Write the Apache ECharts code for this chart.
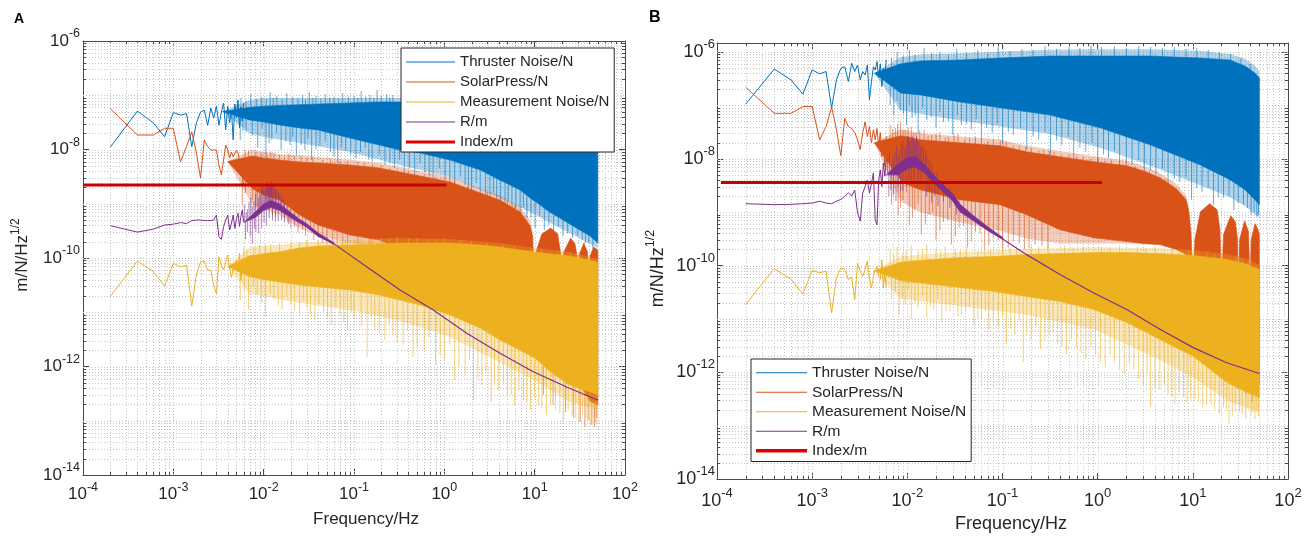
<!DOCTYPE html>
<html>
<head>
<meta charset="utf-8">
<title>Noise amplitude spectra</title>
<script src="https://cdn.jsdelivr.net/npm/echarts@6/dist/echarts.min.js"></script>
<style>
html,body{margin:0;padding:0;background:#fff;}
#chart{width:1313px;height:538px;}
</style>
</head>
<body>
<div id="chart"></div>
<script>
// ---------------- data (Hz, m/N/Hz^1/2) ----------------
// low-frequency bins, 2e-4 Hz resolution
const F_LOW = [0.0002,0.0004,0.0006,0.0008,0.0010,0.0012,0.0014,0.0016,0.0018,0.0020,
  0.0022,0.0024,0.0026,0.0028,0.0030,0.0032,0.0034,0.0036,0.0038,0.0040,
  0.0042,0.0044,0.0046,0.0048,0.0050,0.0052,0.0054,0.0056,0.0058,0.0060];

// ---- panel A ----
const A_THR_LOW = [1.1e-8,5.1e-8,3.1e-8,1.72e-8,4.8e-8,4.3e-8,4.6e-8,1.13e-8,3.1e-8,4.9e-8,
  5.3e-8,2.8e-8,5.8e-8,3.8e-8,6.3e-8,2.8e-8,4.9e-8,7.2e-8,2.3e-8,6.3e-8,
  3.1e-8,5.3e-8,1.5e-8,6.9e-8,3.8e-8,8.2e-8,2.5e-8,6.1e-8,3.35e-8,7.2e-8];
const A_SOL_LOW = [5.7e-8,1.85e-8,1.85e-8,2.46e-8,2.46e-8,5.96e-9,1.13e-8,2.13e-8,8.6e-9,2.98e-9,
  1.5e-8,1.13e-8,9.8e-9,9.8e-9,9.8e-9,5.2e-9,3.4e-9,6.4e-9,1.21e-8,9.8e-9,
  7.0e-9,9.0e-9,7.3e-9,7.6e-9,9.8e-9,8.6e-9,6.4e-9,5.2e-9,3.4e-9,2.2e-9];
const A_MEA_LOW = [1.94e-11,8.8e-11,5.6e-11,3.05e-11,8e-11,6.9e-11,7.4e-11,1.3e-11,4.9e-11,8.4e-11,
  8.8e-11,6e-11,6e-11,3.1e-11,2.2e-11,1.05e-10,7.4e-11,6e-11,8.4e-11,1.14e-10,
  6.5e-11,4.4e-11,6.5e-11,7.4e-11,9.2e-11,5.6e-11,1.23e-10,3.9e-11,8.4e-11,6e-11];
const A_R_LOW = [3.94e-10,3.0e-10,3.4e-10,4.06e-10,4.2e-10,4.5e-10,4.3e-10,4.9e-10,5e-10,5e-10,
  4.9e-10,4.9e-10,4.9e-10,5e-10,6.2e-10,2.47e-10,2.2e-10,3.8e-10,5e-10,6.2e-10,
  3.28e-10,4.4e-10,6.2e-10,3.5e-10,5.3e-10,6.7e-10,3.8e-10,5.8e-10,7.7e-10,4.7e-10];

// dense part: [f, upper, lower] of the solid band; *_HALO is the lighter fringe around it
const A_THR_CORE = [[0.0035,5.0e-8,5.0e-8],[0.007,6.0e-8,3.5e-8],[0.01,6.3e-8,3.2e-8],[0.015,6.5e-8,2.83e-8],
  [0.025,6.7e-8,2.5e-8],[0.04,6.9e-8,2.29e-8],[0.09,7.2e-8,1.63e-8],[0.19,7.5e-8,1.21e-8],[0.32,7.5e-8,9.8e-9],
  [0.54,7.5e-8,8.6e-9],[1.16,7.5e-8,6.4e-9],[2.5,7.3e-8,4.2e-9],[4.1,7.0e-8,2.74e-9],[6.9,6.8e-8,1.79e-9],
  [8.9,6.6e-8,1.28e-9],[11.5,6.4e-8,9.5e-10],[14.6,6.2e-8,7.05e-10],[19,6.0e-8,5.46e-10],[24.5,5.8e-8,4.24e-10],
  [31.5,5.6e-8,3.28e-10],[41,5.4e-8,2.55e-10],[50,5.2e-8,1.89e-10]];
const A_THR_HALO = [[0.0035,5.0e-8,5.0e-8],[0.007,8.2e-8,2.0e-8],[0.01,8.9e-8,1.7e-8],[0.025,8.9e-8,1.32e-8],
  [0.09,8.9e-8,9.0e-9],[0.32,8.9e-8,5.2e-9],[1.16,8.9e-8,3.1e-9],[4.1,8.5e-8,1.28e-9],[8.9,8.2e-8,7.05e-10],
  [19,7.8e-8,3.57e-10],[50,6.5e-8,1.53e-10]];
// spike tips [f, value] above / below the band
const A_THR_UP = [[0.0056,8.9e-8],[0.0072,1.05e-7],[0.0095,9.3e-8],[0.0118,1.15e-7],[0.014,9.7e-8],[0.018,1.1e-7],
  [0.021,9.3e-8],[0.027,1.01e-7],[0.032,1.15e-7],[0.038,9.7e-8],[0.048,1.05e-7],[0.06,9.3e-8],[0.075,1.1e-7],
  [0.1,9.7e-8],[0.12,1.2e-7],[0.15,1.01e-7],[0.18,1.25e-7],[0.23,1.05e-7],[0.27,1.01e-7],
  [0.0064,8.0e-8],[0.0083,8.6e-8],[0.0107,8.2e-8],[0.0128,9.0e-8],[0.016,8.4e-8],[0.024,8.8e-8],[0.029,8.3e-8],
  [0.035,9.0e-8],[0.043,8.5e-8],[0.054,9.2e-8],[0.067,8.8e-8],[0.087,9.5e-8],[0.11,8.9e-8],[0.135,9.6e-8],[0.165,9.0e-8],
  [0.2,9.8e-8],[0.25,9.2e-8]];
const A_THR_DN = [[0.0055,1.5e-8],[0.0064,2.1e-8],[0.0086,1.07e-8],[0.0106,4.75e-9],[0.0123,1.5e-8],[0.0156,9.8e-9],
  [0.0196,1.21e-8],[0.023,7.9e-9],[0.0286,9.8e-9],[0.034,6.4e-9],[0.042,1.16e-8],[0.055,9.0e-9],[0.066,5.64e-9],
  [0.081,9.8e-9],[0.105,6.97e-9],[0.133,1.07e-8],[0.159,5.9e-9],[0.22,5.2e-9],[0.28,4.56e-9],[0.36,3.4e-9],
  [0.47,2.52e-9],[0.61,3.85e-9],[0.75,2.04e-9],[1.02,2.74e-9],[1.3,1.79e-9],[1.7,2.22e-9],[2.0,1.45e-9],
  [2.5,1.17e-9],[3.2,9.5e-10],[3.8,7.7e-10],[4.7,8.35e-10],[5.6,6.2e-10],[6.9,4.6e-10],[8.2,5.46e-10],
  [10.1,3.57e-10],[12.8,3.28e-10],[16.2,3.0e-10],[20.6,2.55e-10],[26.2,2.33e-10],[33.6,2.15e-10],[39.6,1.97e-10],
  [0.0059,2.2e-8],[0.0075,1.8e-8],[0.0096,2.4e-8],[0.0115,1.3e-8],[0.0139,2.0e-8],[0.0176,1.4e-8],[0.021,1.7e-8],
  [0.026,1.2e-8],[0.031,1.6e-8],[0.038,1.0e-8],[0.048,1.4e-8],[0.06,7.5e-9],[0.073,1.1e-8],[0.092,8e-9],[0.118,9e-9],
  [0.146,6.5e-9],[0.19,8e-9],[0.25,5.5e-9],[0.32,6.5e-9],[0.41,4.5e-9],[0.54,5.5e-9],[0.68,3.2e-9],[0.88,4.5e-9],
  [1.15,2.4e-9],[1.5,3.2e-9],[1.85,1.6e-9],[2.25,2.4e-9],[2.85,1.4e-9],[3.5,1.6e-9],[4.2,1.0e-9],[5.1,1.1e-9],
  [6.2,8e-10],[7.5,8.5e-10],[9.1,5.5e-10],[11.4,6e-10],[14.4,4e-10],[18.3,3.8e-10],[23.2,2.8e-10],[29.6,2.6e-10],
  [36.5,1.9e-10],[44,1.5e-10]];

const A_SOL_CORE = [[0.004,6.0e-9,6.0e-9],[0.0075,7.6e-9,1.9e-9],[0.01,6.97e-9,1.45e-9],[0.015,6.4e-9,1.17e-9],
  [0.025,5.9e-9,6.2e-10],[0.04,5.64e-9,4.06e-10],[0.09,5.2e-9,2.65e-10],[0.19,4.56e-9,2.15e-10],[0.32,3.85e-9,1.53e-10],
  [0.54,3.25e-9,1.29e-10],[1.16,2.52e-9,1.14e-10],[2.5,1.58e-9,8.4e-11],[4.1,1.17e-9,6e-11],[6.9,7.05e-10,3.18e-11],
  [8.0,5.0e-10,2.5e-11],[8.9,3.9e-10,2.0e-11],[9.5,2.55e-10,1.6e-11],[10,2.57e-11,1.1e-11],[10.5,1.4e-10,9e-12],
  [12,2.77e-10,6e-12],[15,3.57e-10,3.1e-12],[18,2.77e-10,2e-12],[19.3,1.29e-10,1.5e-12],[20,2.57e-11,1.32e-12],
  [21,1.29e-10,1.2e-12],[25,2.33e-10,8e-13],[28,1.81e-10,6e-13],[29.5,1.09e-10,5e-13],[30,2.57e-11,4.56e-13],
  [31,1.14e-10,4.3e-13],[35,1.89e-10,3.5e-13],[38.5,1.29e-10,2.8e-13],[40,2.57e-11,2.4e-13],[41,1.09e-10,2.3e-13],
  [45,1.6e-10,2.1e-13],[50,1.4e-10,1.95e-13]];
const A_SOL_HALO = [[0.004,6.0e-9,6.0e-9],[0.0075,9.8e-9,9.5e-10],[0.015,8.2e-9,6.2e-10],[0.025,7.8e-9,3.57e-10],
  [0.04,7.3e-9,2.55e-10],[0.09,6.5e-9,1.89e-10],[0.19,5.64e-9,1.6e-10],[0.54,4.0e-9,1.2e-10],[1.16,3.1e-9,1.1e-10],
  [2.5,1.92e-9,8e-11],[4.1,1.45e-9,6e-11],[6.9,8.7e-10,3e-11],[8.9,5e-10,2e-11],[9.5,2.6e-10,1.6e-11]];
const A_SOL_UP = [[0.0062,9.8e-9],[0.0082,9.0e-9],[0.011,7.9e-9],[0.013,8.6e-9],[0.017,7.3e-9],[0.022,7.6e-9],
  [0.03,6.97e-9],[0.045,6.4e-9],[0.07,6.1e-9],[0.11,5.9e-9],[0.16,5.4e-9],[0.25,4.56e-9],
  [0.0068,9.5e-9],[0.0095,8.5e-9],[0.012,9.2e-9],[0.015,8.0e-9],[0.019,8.3e-9],[0.026,7.5e-9],[0.035,7.2e-9],
  [0.055,6.6e-9],[0.085,6.2e-9],[0.13,5.7e-9],[0.2,5.0e-9],[0.3,4.3e-9],[0.4,4.0e-9],[0.6,3.5e-9],[0.8,3.1e-9],
  [1.3,2.6e-9],[1.8,2.1e-9],[3.0,1.6e-9],[5.0,1.1e-9],[6.0,9.5e-10]];
const A_SOL_DN = [[0.0058,9.5e-10],[0.0075,1.17e-9],[0.009,6.2e-10],[0.0115,7.7e-10],[0.0135,4.6e-10],[0.017,5.46e-10],
  [0.02,3.57e-10],[0.024,3.0e-10],[0.029,2.55e-10],[0.036,2.15e-10],[0.045,1.89e-10],[0.058,1.74e-10],[0.075,1.6e-10],
  [0.0063,1.6e-9],[0.0082,8e-10],[0.0105,1.1e-9],[0.0125,6e-10],[0.0155,8e-10],[0.0185,4.5e-10],[0.022,5e-10],
  [0.027,3.3e-10],[0.033,3.6e-10],[0.04,2.5e-10],[0.05,2.3e-10],[0.065,1.9e-10],[0.085,1.7e-10],[0.11,1.6e-10],
  [0.15,1.5e-10],
  [12.5,2.99e-13],[16,1.95e-13],[22,1.45e-13],[27,1.12e-13],[32,9.5e-14],[36,7.7e-14],[39,1.03e-13],[43,8.4e-14],
  [46,7.7e-14],[48.5,1.12e-13]];

const A_MEA_CORE = [[0.004,7.0e-11,7.0e-11],[0.007,1.1e-10,4.5e-11],[0.01,1.2e-10,4.0e-11],[0.015,1.3e-10,3.6e-11],
  [0.025,1.53e-10,3.18e-11],[0.04,1.66e-10,2.92e-11],[0.09,1.74e-10,2.57e-11],[0.19,1.81e-10,2.08e-11],
  [0.32,1.89e-10,1.68e-11],[0.54,1.89e-10,1.36e-11],[1.16,1.89e-10,8.9e-12],[2.5,1.74e-10,5.1e-12],[4.1,1.6e-10,3.1e-12],
  [6.9,1.4e-10,2.0e-12],[10,1.29e-10,1.44e-12],[15,1.19e-10,7.9e-13],[24.5,1.09e-10,4.56e-13],[35,9.6e-11,3.7e-13],
  [45,8.8e-11,3.25e-13],[50,8.1e-11,2.99e-13]];
const A_MEA_HALO = [[0.004,7.0e-11,7.0e-11],[0.007,1.6e-10,2.2e-11],[0.025,1.89e-10,1.5e-11],[0.09,2.15e-10,1.1e-11],
  [0.32,2.33e-10,7e-12],[1.16,2.24e-10,3.5e-12],[4.1,1.89e-10,1.2e-12],[10,1.53e-10,5.5e-13],[24.5,1.29e-10,2.2e-13],
  [50,9.6e-11,1.6e-13]];
const A_MEA_UP = [[0.006,1.6e-10],[0.009,1.74e-10],[0.012,1.81e-10],[0.02,1.97e-10],[0.03,2.15e-10],[0.05,2.33e-10],
  [0.08,2.15e-10],[0.12,2.55e-10],[0.2,2.33e-10],[0.3,2.44e-10],[0.5,2.33e-10],[0.8,2.24e-10],[1.5,2.15e-10],
  [3,1.89e-10],[6,1.66e-10],[12,1.47e-10],[25,1.29e-10],[40,1.09e-10],
  [0.0065,1.45e-10],[0.0078,1.6e-10],[0.0105,1.75e-10],[0.015,1.85e-10],[0.025,2.0e-10],[0.04,2.15e-10],
  [0.065,2.1e-10],[0.1,2.3e-10],[0.16,2.2e-10],[0.25,2.35e-10],[0.4,2.3e-10],[0.65,2.25e-10],[1.0,2.3e-10],
  [2.0,2.05e-10],[4.5,1.8e-10],[9,1.55e-10],[18,1.35e-10],[32,1.15e-10],[47,9.5e-11]];
const A_MEA_DN = [[0.0055,1.68e-11],[0.0068,1.1e-11],[0.0085,2.08e-11],[0.0105,8.2e-12],[0.013,1.68e-11],[0.016,1.1e-11],
  [0.02,1.36e-11],[0.025,8.9e-12],[0.03,1.2e-11],[0.037,7.2e-12],[0.046,1.01e-11],[0.056,5.8e-12],[0.07,8.9e-12],
  [0.085,4.7e-12],[0.1,7.8e-12],[0.14,1.5e-12],[0.17,4.7e-12],[0.22,3.1e-12],[0.27,3.8e-12],[0.35,2.5e-12],
  [0.45,1.5e-12],[0.6,2.0e-12],[0.8,1.07e-12],[1.0,1.32e-12],[1.3,5.6e-13],[1.7,7.0e-13],[2.1,2.4e-13],[2.6,4.56e-13],
  [3.3,2.2e-13],[4.0,3.7e-13],[5.0,2.99e-13],[6.0,1.95e-13],[7.5,2.4e-13],[9.0,1.58e-13],[11,1.95e-13],[13.5,1.28e-13],
  [17,1.58e-13],[21,1.03e-13],[26,1.22e-13],[31,9.5e-14],[37,1.12e-13],[42,8.4e-14],[47,9.1e-14],
  [0.0061,2.5e-11],[0.0077,3e-11],[0.0095,1.5e-11],[0.0118,2.2e-11],[0.0145,1.3e-11],[0.018,2e-11],[0.022,1.1e-11],
  [0.0275,1.6e-11],[0.033,9e-12],[0.041,1.4e-11],[0.051,8e-12],[0.063,1.2e-11],[0.077,6.5e-12],[0.093,1.0e-11],
  [0.12,5.5e-12],[0.155,8e-12],[0.19,4e-12],[0.245,6e-12],[0.3,2.8e-12],[0.39,4.5e-12],[0.5,2.2e-12],[0.68,3.5e-12],
  [0.9,1.6e-12],[1.15,2.5e-12],[1.45,1.0e-12],[1.9,1.3e-12],[2.35,6e-13],[2.9,8e-13],[3.6,4.5e-13],[4.5,5e-13],
  [5.5,3e-13],[6.7,3.5e-13],[8.2,2.2e-13],[10,2.6e-13],[12,1.7e-13],[15,2e-13],[19,1.4e-13],[23.5,1.6e-13],
  [28.5,1.1e-13],[34,1.3e-13],[40,1.0e-13],[44.5,1.15e-13],[49,8.5e-14]];

const A_R_CORE = [[0.006,4.5e-10,4.5e-10],[0.008,7e-10,5.5e-10],[0.01,1.0e-9,7.5e-10],[0.012,1.15e-9,8.5e-10],
  [0.015,1.0e-9,7.5e-10],[0.02,6.8e-10,5.5e-10],[0.025,5.2e-10,4.4e-10],[0.03,4.3e-10,3.7e-10],[0.04,2.9e-10,2.5e-10],
  [0.06,1.92e-10,1.78e-10]];
const A_R_UP = [[0.0061,9.5e-10],[0.0066,8e-10],[0.0072,1.3e-9],[0.0078,1.1e-9],[0.0085,1.8e-9],[0.0092,1.5e-9],
  [0.0098,2.4e-9],[0.0104,2.0e-9],[0.011,2.5e-9],[0.0116,2.2e-9],[0.0122,2.6e-9],[0.013,2.0e-9],[0.014,1.9e-9],
  [0.0152,1.5e-9],[0.0165,1.2e-9],[0.018,9e-10],
  [0.0064,7e-10],[0.0069,1.1e-9],[0.0075,9e-10],[0.0081,1.5e-9],[0.0088,1.3e-9],[0.0095,2.0e-9],[0.0101,1.7e-9],
  [0.0107,2.3e-9],[0.0113,2.0e-9],[0.0119,2.4e-9],[0.0126,2.2e-9],[0.0135,1.8e-9],[0.0146,1.6e-9],[0.0158,1.3e-9],
  [0.017,1.05e-9],[0.0195,8e-10],[0.022,6.8e-10]];
const A_R_DN = [[0.0063,2.2e-10],[0.0075,1.86e-10],[0.0082,3e-10],[0.0095,3.5e-10],[0.0107,4e-10],[0.0125,5e-10],
  [0.0145,4.8e-10],[0.017,4.5e-10],
  [0.0066,3e-10],[0.0071,2.5e-10],[0.0079,3.5e-10],[0.0088,2.8e-10],[0.0101,4.5e-10],[0.0115,5.5e-10],
  [0.0135,5.5e-10],[0.0158,5e-10],[0.019,4.2e-10],[0.022,3.8e-10]];
const A_R_F = [0.025,0.059,0.138,0.323,0.755,1.77,4.13,9.66,22.6,44.6,50];
const A_R_V = [4.7e-10,1.86e-10,6.9e-11,2.57e-11,1.1e-11,4.1e-12,1.75e-12,8e-13,4.2e-13,2.6e-13,2.4e-13];
const A_IDX_F = [0.0001,1.06];
const A_IDX_V = [2.22e-9,2.22e-9];

// ---- panel B ----
const B_THR_LOW = [1.05e-7,4.8e-7,3.0e-7,1.62e-7,4.6e-7,3.9e-7,4.3e-7,8.9e-8,3.0e-7,4.95e-7,
  5.3e-7,2.8e-7,6.15e-7,4.3e-7,5.7e-7,3.0e-7,4.3e-7,3.7e-7,5.7e-7,1.27e-7,
  2.8e-7,5.3e-7,4.6e-7,6.6e-7,3.3e-7,6.0e-7,2.25e-7,5.0e-7,3.6e-7,7.1e-7];
const B_SOL_LOW = [2.19e-7,7.1e-8,7.1e-8,9.5e-8,9.5e-8,2.26e-8,4e-8,9.3e-8,3.5e-8,1.14e-8,
  5.75e-8,4e-8,3.7e-8,3.1e-8,2.26e-8,1.48e-8,3.1e-8,4.9e-8,2.6e-8,4e-8,
  2e-8,3.5e-8,2.26e-8,3.7e-8,1.7e-8,3.1e-8,1.1e-8,2.26e-8,7.2e-9,2.6e-8];
const B_MEA_LOW = [1.87e-11,8.7e-11,5.5e-11,2.9e-11,8.1e-11,7.3e-11,7.9e-11,1.3e-11,5.9e-11,9e-11,
  8.5e-11,5.5e-11,6e-11,2.3e-11,1.1e-10,7.8e-11,6.3e-11,8.4e-11,1.2e-10,5.5e-11,
  3.8e-11,6.3e-11,8.4e-11,9.7e-11,6.3e-11,5.5e-11,1.28e-10,3.8e-11,7.3e-11,3.8e-11];
const B_R_LOW = [1.44e-9,1.38e-9,1.4e-9,1.44e-9,1.48e-9,1.6e-9,1.48e-9,1.44e-9,1.6e-9,1.73e-9,
  1.98e-9,2.3e-9,2e-9,2.6e-9,9.6e-10,6.8e-10,2.3e-9,3.0e-9,4.0e-9,2.3e-9,
  3.5e-9,5.4e-9,7.2e-10,5.8e-10,4e-9,6.2e-9,3e-9,8.3e-9,4.7e-9,9.6e-9];

const B_THR_CORE = [[0.0045,4.0e-7,4.0e-7],[0.0085,6.0e-7,1.7e-7],[0.0136,6.8e-7,1.57e-7],[0.0357,7.1e-7,1.16e-7],
  [0.0943,7.7e-7,9.0e-8],[0.315,8.4e-7,6.6e-8],[1.06,8.4e-7,3.8e-8],[3.55,8.4e-7,1.83e-8],[11.9,7.7e-7,7.7e-9],
  [24.5,7.1e-7,4.05e-9],[35.3,5.47e-7,2.64e-9],[44.9,4.05e-7,1.71e-9],[50,3.27e-7,1.38e-9]];
const B_THR_HALO = [[0.0045,4.0e-7,4.0e-7],[0.0085,8e-7,8e-8],[0.0136,9e-7,7e-8],[0.0357,9.5e-7,5.2e-8],
  [0.0943,1.02e-6,4e-8],[0.315,1.1e-6,2.9e-8],[1.06,1.12e-6,1.6e-8],[3.55,1.12e-6,7.5e-9],[11.9,1.05e-6,3.2e-9],
  [24.5,9.2e-7,1.9e-9],[35.3,7.5e-7,1.3e-9],[44.9,5.6e-7,9e-10],[50,4.3e-7,8e-10]];
const B_THR_UP = [[0.0068,7.7e-7],[0.0078,1.0e-6],[0.009,8.4e-7],[0.0105,1.09e-6],[0.012,8.8e-7],[0.015,1.19e-6],
  [0.018,9.6e-7],[0.022,1.0e-6],[0.027,8.8e-7],[0.033,1.14e-6],[0.042,9.6e-7],[0.055,1.09e-6],[0.07,9.2e-7],
  [0.09,1.24e-6],[0.12,1.04e-6],[0.16,1.14e-6],[0.21,1.09e-6],[0.28,1.29e-6],[0.37,1.14e-6],[0.5,1.24e-6],
  [0.65,1.19e-6],[0.85,1.35e-6],[1.1,1.24e-6],[1.5,1.29e-6],[2.0,1.19e-6],[2.7,1.29e-6],[3.6,1.24e-6],[4.8,1.19e-6],
  [6.4,1.24e-6],[8.5,1.14e-6],[11,1.19e-6],[14.5,1.09e-6],[19,1.0e-6],[25,9.2e-7],[32,7.7e-7],[40,5.97e-7]];
const B_THR_DN = [[0.0072,6.6e-8],[0.0084,8.2e-8],[0.0098,4.3e-8],[0.0112,5.8e-8],[0.013,3.06e-8],[0.016,5.36e-8],
  [0.02,3.8e-8],[0.024,4.9e-8],[0.03,2.81e-8],[0.037,4.3e-8],[0.047,3.48e-8],[0.06,2.26e-8],[0.078,3.06e-8],
  [0.1,1.83e-8],[0.13,2.81e-8],[0.18,1.47e-8],[0.24,2.26e-8],[0.32,1.19e-8],[0.42,1.83e-8],[0.56,9.6e-9],
  [0.75,1.35e-8],[1.0,7.7e-9],[1.3,1.04e-8],[1.7,5.0e-9],[2.3,7.7e-9],[3.1,3.0e-9],[4.1,5.0e-9],[5.5,2.64e-9],
  [7.3,3.7e-9],[9.7,1.71e-9],[12.5,2.42e-9],[16.5,1.38e-9],[21,1.87e-9],[27,1.11e-9],[34,1.38e-9],[41,8.97e-10],
  [47,8.2e-10],
  [0.0066,1.0e-7],[0.0078,1.2e-7],[0.0091,7e-8],[0.0105,1.0e-7],[0.0121,6.5e-8],[0.0145,9e-8],[0.0178,6e-8],
  [0.022,7.5e-8],[0.027,5e-8],[0.0335,6.5e-8],[0.042,4.5e-8],[0.053,5.5e-8],[0.068,3.8e-8],[0.088,4.5e-8],
  [0.115,3.2e-8],[0.155,3.8e-8],[0.21,2.6e-8],[0.28,3.2e-8],[0.37,2.2e-8],[0.49,2.6e-8],[0.65,1.6e-8],[0.87,2.0e-8],
  [1.15,1.2e-8],[1.5,1.4e-8],[2.0,8.5e-9],[2.7,9.5e-9],[3.6,6e-9],[4.8,6.5e-9],[6.4,4.2e-9],[8.5,4.5e-9],[11,2.8e-9],
  [14.5,2.9e-9],[18.5,1.9e-9],[24,2.0e-9],[30,1.5e-9],[37.5,1.2e-9],[44,1.0e-9],[49,9e-10]];

const B_SOL_CORE = [[0.0045,2.0e-8,2.0e-8],[0.0085,2.7e-8,4.0e-9],[0.01,2.58e-8,3.27e-9],[0.0136,2.26e-8,2.64e-9],
  [0.0357,1.99e-8,1.71e-9],[0.0943,1.75e-8,1.38e-9],[0.179,1.35e-8,8.97e-10],[0.40,1.09e-8,4.7e-10],[0.90,8.8e-9,3.33e-10],
  [2.02,7.4e-9,2.81e-10],[2.99,5.97e-9,2.6e-10],[4.52,4.4e-9,2.47e-10],[6.7,2.75e-9,2.0e-10],[8.5,1.71e-9,1.61e-10],
  [9.1,1.02e-9,1.3e-10],[9.6,3.8e-10,1.0e-10],[10,3.6e-11,3.0e-11],[10.5,3.06e-10,7e-11],[12,1.02e-9,5e-11],
  [15,1.44e-9,2.31e-11],[18,1.11e-9,1.4e-11],[19.3,4.7e-10,1.1e-11],[20,3.56e-11,9.8e-12],[21,3.8e-10,8.5e-12],
  [25,8.6e-10,5e-12],[28,6.6e-10,3.5e-12],[29.5,3.06e-10,2.9e-12],[30,3.56e-11,2.69e-12],[31,3.06e-10,2.5e-12],
  [35,6.9e-10,1.6e-12],[38.5,4.3e-10,1.1e-12],[40,3.56e-11,9.2e-13],[41,3.06e-10,8.8e-13],[45,6.1e-10,7.5e-13],
  [48.5,4.7e-10,6.5e-13],[50,3.8e-10,5.97e-13]];
const B_SOL_HALO = [[0.0045,2.0e-8,2.0e-8],[0.0085,3.6e-8,1.6e-9],[0.0136,3.0e-8,1.0e-9],[0.0357,2.6e-8,6.5e-10],
  [0.0943,2.3e-8,4.5e-10],[0.179,1.75e-8,3.2e-10],[0.4,1.4e-8,2.6e-10],[0.9,1.12e-8,2.6e-10],[2.02,9.2e-9,2.6e-10],
  [2.99,7.4e-9,2.5e-10],[4.52,5.4e-9,2.4e-10],[6.7,3.4e-9,2e-10],[8.5,2.0e-9,1.6e-10],[9.1,1.1e-9,1.3e-10]];
const B_SOL_UP = [[0.0066,4.3e-8],[0.0075,3.8e-8],[0.0085,4.9e-8],[0.0095,3.48e-8],[0.011,3.96e-8],[0.0125,3.06e-8],
  [0.015,3.48e-8],[0.018,2.81e-8],[0.022,3.2e-8],[0.027,2.58e-8],[0.034,2.93e-8],[0.045,2.47e-8],[0.06,2.26e-8],
  [0.08,2.37e-8],[0.11,2.08e-8],[0.15,1.75e-8],[0.2,1.61e-8],[0.27,1.47e-8],[0.35,1.35e-8],[0.5,1.19e-8],
  [0.7,1.09e-8],[1.0,1.04e-8],[1.4,9.6e-9],[2.0,8.8e-9],
  [0.007,3.6e-8],[0.0079,4.5e-8],[0.009,3.3e-8],[0.0102,3.8e-8],[0.0117,3.0e-8],[0.0135,3.4e-8],[0.0165,2.7e-8],
  [0.02,3.0e-8],[0.025,2.5e-8],[0.031,2.8e-8],[0.04,2.3e-8],[0.052,2.6e-8],[0.07,2.1e-8],[0.095,2.2e-8],[0.13,1.8e-8],
  [0.175,1.65e-8],[0.24,1.45e-8],[0.31,1.4e-8],[0.42,1.2e-8],[0.6,1.1e-8],[0.85,1.0e-8],[1.2,9.2e-9],[1.7,8.6e-9],
  [2.5,7.2e-9],[3.5,5.8e-9],[5.2,4.2e-9]];
const B_SOL_DN = [[0.0068,1.38e-9],[0.008,8.97e-10],[0.009,1.71e-9],[0.0105,5.8e-10],[0.012,1.11e-9],[0.014,3.8e-10],
  [0.017,8.97e-10],[0.02,3.06e-10],[0.024,6.6e-10],[0.029,2.47e-10],[0.035,5.1e-10],[0.043,2.17e-10],[0.052,4.3e-10],
  [0.065,1.99e-10],[0.08,3.33e-10],[0.1,1.99e-10],[0.13,2.81e-10],[0.17,1.99e-10],[0.22,2.47e-10],
  [0.0071,2e-9],[0.0085,1.2e-9],[0.0098,2.3e-9],[0.0113,8e-10],[0.013,1.4e-9],[0.0155,6e-10],[0.0185,1e-9],
  [0.022,4.5e-10],[0.0265,7e-10],[0.032,3.5e-10],[0.039,5.5e-10],[0.047,2.8e-10],[0.058,4e-10],[0.072,2.4e-10],
  [0.09,3e-10],[0.115,2.2e-10],[0.15,2.6e-10],[0.19,2.1e-10],[0.26,2.3e-10],[0.3,2.1e-10],
  [30,4.8e-13],[36,3.88e-13],[42,2.75e-13],[46,3.41e-13],[49,3.13e-13]];

const B_MEA_CORE = [[0.0045,8.0e-11,8.0e-11],[0.0085,1.15e-10,5.2e-11],[0.01,1.2e-10,5.0e-11],[0.0357,1.41e-10,3.88e-11],
  [0.08,1.47e-10,3.27e-11],[0.179,1.61e-10,2.64e-11],[0.4,1.68e-10,2.12e-11],[0.9,1.75e-10,1.51e-11],
  [2.02,1.75e-10,8.6e-12],[4.52,1.68e-10,4.14e-12],[10.1,1.54e-10,1.99e-12],[22.7,1.3e-10,6.5e-13],
  [35,1.09e-10,4.4e-13],[50,8.4e-11,3.41e-13]];
const B_MEA_HALO = [[0.0045,8.0e-11,8.0e-11],[0.0085,1.5e-10,2.4e-11],[0.0357,1.8e-10,1.75e-11],[0.179,2.05e-10,1.2e-11],
  [0.9,2.2e-10,6.5e-12],[4.52,2.1e-10,1.7e-12],[10.1,1.95e-10,8e-13],[22.7,1.65e-10,3e-13],[35,1.38e-10,2.2e-13],
  [50,1.05e-10,1.8e-13]];
const B_MEA_UP = [[0.0066,1.99e-10],[0.0078,2.26e-10],[0.009,1.83e-10],[0.011,2.37e-10],[0.013,1.99e-10],[0.016,2.47e-10],
  [0.02,2.08e-10],[0.025,2.26e-10],[0.032,1.99e-10],[0.042,2.17e-10],[0.055,1.83e-10],[0.075,1.99e-10],[0.1,2.08e-10],
  [0.14,2.26e-10],[0.2,2.37e-10],[0.3,2.26e-10],[0.45,2.37e-10],[0.7,2.17e-10],[1.1,2.26e-10],[1.7,2.37e-10],
  [2.6,2.26e-10],[4,2.17e-10],[6,2.17e-10],[9,1.99e-10],[14,1.83e-10],[20,1.68e-10],[28,1.41e-10],[38,1.19e-10],
  [46,1.0e-10],
  [0.0072,1.7e-10],[0.0097,1.9e-10],[0.0145,2.0e-10],[0.0225,1.95e-10],[0.036,2.05e-10],[0.065,2.0e-10],
  [0.12,2.15e-10],[0.24,2.2e-10],[0.55,2.2e-10],[1.35,2.2e-10],[3.2,2.1e-10],[7.5,1.95e-10],[17,1.7e-10],
  [33,1.3e-10]];
const B_MEA_DN = [[0.0068,2.31e-11],[0.0082,1.21e-11],[0.0095,1.87e-11],[0.011,9.8e-12],[0.013,1.64e-11],[0.016,1.07e-11],
  [0.019,1.51e-11],[0.023,8.6e-12],[0.028,1.38e-11],[0.034,1.11e-11],[0.041,1.38e-11],[0.05,7.9e-12],[0.06,9.8e-12],
  [0.072,6.4e-12],[0.09,7.2e-12],[0.11,3.33e-12],[0.135,5.1e-12],[0.165,1.54e-12],[0.2,4.14e-12],[0.25,2.69e-12],
  [0.31,5.1e-12],[0.38,3.33e-12],[0.47,2.17e-12],[0.6,2.93e-12],[0.75,1.75e-12],[0.95,2.17e-12],[1.2,1.24e-12],
  [1.5,1.61e-12],[1.9,9.2e-13],[2.4,1.14e-12],[3.0,5.97e-13],[3.6,2.22e-13],[4.5,4.8e-13],[5.5,3.88e-13],
  [6.5,2.52e-13],[8,3.41e-13],[9.5,3.13e-13],[11.5,2.87e-13],[14,2.52e-13],[17,2.03e-13],[21,2.22e-13],[24,1.07e-13],
  [28,1.87e-13],[33,1.64e-13],[38,2.03e-13],[43,1.79e-13],[47,1.87e-13],
  [0.0075,3.2e-11],[0.0088,2.5e-11],[0.0102,3.5e-11],[0.012,2e-11],[0.0145,2.8e-11],[0.0175,1.7e-11],[0.021,2.3e-11],
  [0.0255,1.4e-11],[0.031,2e-11],[0.037,1.2e-11],[0.045,1.7e-11],[0.055,1.0e-11],[0.066,1.4e-11],[0.08,8.5e-12],
  [0.1,1.1e-11],[0.122,6.5e-12],[0.15,9e-12],[0.18,5e-12],[0.225,7e-12],[0.28,4e-12],[0.34,5.5e-12],[0.42,3e-12],
  [0.53,4.2e-12],[0.67,2.3e-12],[0.85,3e-12],[1.07,1.6e-12],[1.35,2.1e-12],[1.7,1.1e-12],[2.15,1.4e-12],
  [2.7,7.5e-13],[3.3,9e-13],[4.0,5e-13],[5.0,6e-13],[6.0,3.5e-13],[7.2,4.2e-13],[8.7,2.7e-13],[10.5,3.2e-13],
  [12.7,2.2e-13],[15.5,2.5e-13],[19,1.7e-13],[22.5,2.0e-13],[26,1.5e-13],[31,1.8e-13],[36,1.35e-13],[41,1.6e-13],
  [45,1.3e-13],[49,1.5e-13]];

const B_R_CORE = [[0.006,5e-9,5e-9],[0.008,8e-9,5e-9],[0.01,1.05e-8,6.5e-9],[0.012,1.1e-8,7e-9],[0.015,8e-9,5.5e-9],
  [0.02,4.5e-9,3.2e-9],[0.025,3.0e-9,2.2e-9],[0.03,2.2e-9,1.6e-9],[0.036,1.4e-9,1.0e-9],[0.05,8.5e-10,6.8e-10],
  [0.07,5.3e-10,4.5e-10],[0.1,3.4e-10,3.1e-10]];
const B_R_UP = [[0.0062,1e-8],[0.0068,8e-9],[0.0074,1.4e-8],[0.008,1.1e-8],[0.0087,1.9e-8],[0.0094,1.5e-8],[0.01,2.4e-8],
  [0.0106,2.0e-8],[0.0112,2.7e-8],[0.0118,2.3e-8],[0.0125,2.6e-8],[0.0133,2.0e-8],[0.0142,1.8e-8],[0.0155,1.4e-8],
  [0.017,1.0e-8],[0.019,6e-9],[0.022,4e-9],
  [0.0065,1.3e-8],[0.0071,1.1e-8],[0.0077,1.7e-8],[0.0083,1.4e-8],[0.009,2.2e-8],[0.0097,1.8e-8],[0.0103,2.6e-8],
  [0.0109,2.2e-8],[0.0115,2.5e-8],[0.0121,2.1e-8],[0.0129,2.3e-8],[0.0137,1.7e-8],[0.0148,1.6e-8],[0.016,1.2e-8],
  [0.018,8e-9],[0.0205,5.5e-9],[0.024,3.8e-9],[0.028,2.8e-9]];
const B_R_DN = [[0.0064,2e-9],[0.0076,1.6e-9],[0.0085,2.5e-9],[0.0097,3e-9],[0.011,3.5e-9],[0.013,3.2e-9],[0.016,2e-9],
  [0.018,1.5e-9],[0.021,1.3e-9],
  [0.0067,2.6e-9],[0.0072,2.2e-9],[0.008,3e-9],[0.009,2.5e-9],[0.0104,4e-9],[0.0118,3.8e-9],[0.014,3.5e-9],
  [0.017,2.5e-9],[0.0195,2e-9],[0.024,1.6e-9],[0.028,1.2e-9],[0.033,9e-10]];
const B_R_F = [0.0357,0.08,0.179,0.402,0.90,2.02,4.52,10.1,22.7,50];
const B_R_V = [1.11e-9,4.1e-10,1.6e-10,6.8e-11,3.1e-11,1.5e-11,6.4e-12,2.9e-12,1.51e-12,9.5e-13];
const B_IDX_F = [0.00011,1.11];
const B_IDX_V = [3.6e-9,3.6e-9];

// axis ranges in decades, legend labels
const X_DEC = [-4, 2];
const A_Y_DEC = [-14, -6];
const B_Y_DEC = [-14, -5.832];
const NAMES = ['Thruster Noise/N', 'SolarPress/N', 'Measurement Noise/N', 'R/m', 'Index/m'];

// ---------------- drawing ----------------
const lg = Math.log10;
const FONT = '"Liberation Sans", Arial, Helvetica, sans-serif';
const INK = '#262626';
const AX = '#4a4a4a';
const COL = ['#0072BD', '#D95319', '#EDB120', '#7E2F8E', '#C80000'];

let zc = 10;
function lineSeries(gi, name, color, fs, vs, width) {
  return {
    type: 'line', name, xAxisIndex: gi, yAxisIndex: gi,
    data: fs.map((f, i) => [lg(f), lg(vs[i])]),
    symbol: 'none', showSymbol: false, silent: true, animation: false, clip: true,
    lineStyle: { color, width }, itemStyle: { color }, z: zc++
  };
}
function toLog(rows) { return rows.map(r => r.map(v => lg(v))); }
function edgeAt(core, x, k) {
  if (x <= core[0][0]) return core[0][k];
  for (let i = 0; i < core.length - 1; i++) {
    if (x <= core[i + 1][0]) {
      const t = (x - core[i][0]) / (core[i + 1][0] - core[i][0]);
      return core[i][k] + t * (core[i + 1][k] - core[i][k]);
    }
  }
  return core[core.length - 1][k];
}
// filled band between an upper and a lower trace
function bandSeries(gi, name, color, rows, opacity) {
  const pts = toLog(rows);
  return {
    type: 'custom', name, xAxisIndex: gi, yAxisIndex: gi, coordinateSystem: 'cartesian2d',
    data: pts, silent: true, animation: false, clip: true, z: zc++, itemStyle: { color },
    renderItem: (params, api) => {
      if (params.dataIndex !== 0) return null;
      const top = pts.map(p => api.coord([p[0], p[1]]));
      const bot = pts.map(p => api.coord([p[0], p[2]])).reverse();
      return { type: 'polygon', shape: { points: top.concat(bot) },
        style: { fill: color, stroke: opacity < 1 ? null : color, lineWidth: 0.6, opacity } };
    }
  };
}
function spikeSeries(gi, name, color, rows, tips, k) {
  const core = toLog(rows);
  return {
    type: 'custom', name, xAxisIndex: gi, yAxisIndex: gi, coordinateSystem: 'cartesian2d',
    data: toLog(tips), silent: true, animation: false, clip: true, z: zc++, itemStyle: { color },
    renderItem: (params, api) => {
      const x = api.value(0);
      const a = api.coord([x, api.value(1)]);
      const b = api.coord([x, edgeAt(core, x, k)]);
      return { type: 'line', shape: { x1: a[0], y1: a[1], x2: b[0], y2: b[1] },
        style: { stroke: color, lineWidth: 1, opacity: 0.6 } };
    }
  };
}
function bandGroup(gi, idx, low, core, halo, up, dn) {
  const c = COL[idx], n = NAMES[idx];
  const out = [lineSeries(gi, n, c, F_LOW, low, 1)];
  if (halo) out.push(bandSeries(gi, n, c, halo, 0.3));
  out.push(spikeSeries(gi, n, c, core, up, 1), spikeSeries(gi, n, c, core, dn, 2), bandSeries(gi, n, c, core, 1));
  return out;
}

// log-spaced grid lines and minor ticks for one panel
function decoSeries(gi, xr, yr) {
  const lines = [];
  for (let e = Math.floor(xr[0]); e < xr[1]; e++)
    for (let m = 1; m <= 9; m++) { const v = e + lg(m); if (v > xr[0] + 1e-9 && v < xr[1] - 1e-9) lines.push([0, v, m === 1]); }
  for (let e = Math.floor(yr[0]); e < yr[1]; e++)
    for (let m = 1; m <= 9; m++) { const v = e + lg(m); if (v > yr[0] + 1e-9 && v < yr[1] - 1e-9) lines.push([1, v, m === 1]); }
  const grid = { stroke: '#c4c4c4', lineWidth: 1, lineDash: [1, 2] };
  const tick = { stroke: AX, lineWidth: 1 };
  return {
    type: 'custom', xAxisIndex: gi, yAxisIndex: gi, coordinateSystem: 'cartesian2d', silent: true,
    animation: false, z: 1, data: lines.map((l, i) => [xr[0], yr[0], i]),
    renderItem: (params, api) => {
      const [dir, v, major] = lines[params.dataIndex];
      const ch = [];
      if (dir === 0) {
        const p1 = api.coord([v, yr[0]]), p2 = api.coord([v, yr[1]]);
        const x = Math.round(p1[0]) + 0.5;
        ch.push({ type: 'line', shape: { x1: x, y1: p1[1], x2: x, y2: p2[1] }, style: grid });
        if (!major) {
          ch.push({ type: 'line', shape: { x1: x, y1: p1[1], x2: x, y2: p1[1] - 3 }, style: tick });
          ch.push({ type: 'line', shape: { x1: x, y1: p2[1], x2: x, y2: p2[1] + 3 }, style: tick });
        }
      } else {
        const p1 = api.coord([xr[0], v]), p2 = api.coord([xr[1], v]);
        const y = Math.round(p1[1]) + 0.5;
        ch.push({ type: 'line', shape: { x1: p1[0], y1: y, x2: p2[0], y2: y }, style: grid });
        if (!major) {
          ch.push({ type: 'line', shape: { x1: p1[0], y1: y, x2: p1[0] + 3, y2: y }, style: tick });
          ch.push({ type: 'line', shape: { x1: p2[0], y1: y, x2: p2[0] - 3, y2: y }, style: tick });
        }
      }
      return { type: 'group', children: ch };
    }
  };
}

function pow(v) {
  const n = Math.round(v);
  return Math.abs(v - n) < 1e-6 ? '{b|10}{s|' + n + '}' : '';
}
// base "10" sits on the line bottom, the exponent is lifted by bottom padding
function rich(fs, ss) {
  return {
    b: { fontFamily: FONT, fontSize: fs, lineHeight: fs, verticalAlign: 'bottom', color: INK },
    s: { fontFamily: FONT, fontSize: ss, lineHeight: ss, padding: [0, 0, Math.round(fs * 0.55), 0], verticalAlign: 'bottom', color: INK }
  };
}
const AXBASE = {
  type: 'value', splitLine: { show: false },
  axisLine: { show: true, onZero: false, lineStyle: { color: AX, width: 1 } },
  axisTick: { show: true, inside: true, length: 6, lineStyle: { color: AX } }
};
function xAxis(gi, pos, st) {
  const a = Object.assign({}, AXBASE, { gridIndex: gi, position: pos, min: X_DEC[0], max: X_DEC[1], interval: 1 });
  if (st) {
    a.axisLabel = { show: true, margin: st.margin, formatter: pow, rich: rich(st.fs, st.ss) };
    a.name = 'Frequency/Hz'; a.nameLocation = 'middle'; a.nameGap = st.gap;
    a.nameTextStyle = { fontFamily: FONT, fontSize: st.nfs, color: INK, padding: [0, 0, 0, st.shift] };
  } else a.axisLabel = { show: false };
  return a;
}
function yAxis(gi, pos, yr, st) {
  const a = Object.assign({}, AXBASE, { gridIndex: gi, position: pos, min: yr[0], max: yr[1], interval: 2 });
  if (st) {
    a.axisLabel = { show: true, margin: st.margin, formatter: pow, rich: rich(st.fs, st.ss) };
    a.name = '{b|m/N/Hz}{s|1/2}'; a.nameLocation = 'middle'; a.nameGap = st.gap; a.nameRotate = 90;
    a.nameTextStyle = { padding: st.pad, rich: rich(st.nfs, st.nss) };
  } else a.axisLabel = { show: false };
  return a;
}
function legend(left, top, iw, fs, lh, pad) {
  return {
    orient: 'vertical', left, top, itemWidth: iw, itemHeight: 8, itemGap: 0, padding: pad,
    backgroundColor: '#ffffff', borderColor: INK, borderWidth: 1, borderRadius: 0,
    selectedMode: false, z: 100, symbolKeepAspect: true,
    textStyle: { fontFamily: FONT, fontSize: fs, color: INK, lineHeight: lh },
    data: NAMES.map((n, i) => ({
      name: n,
      icon: i === 4 ? 'path://M0,0L49,0L49,3.2L0,3.2Z' : 'path://M0,0L49,0L49,1L0,1Z',
      itemStyle: { color: i === 4 ? '#E00000' : COL[i], borderWidth: 0 }
    }))
  };
}

const series = [decoSeries(0, X_DEC, A_Y_DEC), decoSeries(1, X_DEC, B_Y_DEC)];
// panel A
series.push(...bandGroup(0, 0, A_THR_LOW, A_THR_CORE, A_THR_HALO, A_THR_UP, A_THR_DN));
series.push(...bandGroup(0, 1, A_SOL_LOW, A_SOL_CORE, A_SOL_HALO, A_SOL_UP, A_SOL_DN));
series.push(...bandGroup(0, 2, A_MEA_LOW, A_MEA_CORE, A_MEA_HALO, A_MEA_UP, A_MEA_DN));
series.push(...bandGroup(0, 3, A_R_LOW, A_R_CORE, null, A_R_UP, A_R_DN));
series.push(lineSeries(0, NAMES[3], COL[3], A_R_F, A_R_V, 1.2));
series.push(lineSeries(0, NAMES[4], COL[4], A_IDX_F, A_IDX_V, 3));
// panel B
series.push(...bandGroup(1, 0, B_THR_LOW, B_THR_CORE, B_THR_HALO, B_THR_UP, B_THR_DN));
series.push(...bandGroup(1, 1, B_SOL_LOW, B_SOL_CORE, B_SOL_HALO, B_SOL_UP, B_SOL_DN));
series.push(...bandGroup(1, 2, B_MEA_LOW, B_MEA_CORE, B_MEA_HALO, B_MEA_UP, B_MEA_DN));
series.push(...bandGroup(1, 3, B_R_LOW, B_R_CORE, null, B_R_UP, B_R_DN));
series.push(lineSeries(1, NAMES[3], COL[3], B_R_F, B_R_V, 1.2));
series.push(lineSeries(1, NAMES[4], COL[4], B_IDX_F, B_IDX_V, 3));

const option = {
  backgroundColor: '#ffffff',
  animation: false,
  title: [
    { text: 'A', left: 14, top: 12, padding: 0, textStyle: { fontFamily: FONT, fontSize: 14, fontWeight: 'bold', color: '#000' } },
    { text: 'B', left: 649, top: 10, padding: 0, textStyle: { fontFamily: FONT, fontSize: 16, fontWeight: 'bold', color: '#000' } }
  ],
  grid: [
    { left: 83, top: 41, width: 542, height: 434, containLabel: false },
    { left: 717, top: 43, width: 571, height: 437, containLabel: false }
  ],
  xAxis: [
    xAxis(0, 'bottom', { margin: 11, fs: 17, ss: 12.5, gap: 36, nfs: 17, shift: 24 }),
    xAxis(1, 'bottom', { margin: 13, fs: 18, ss: 13, gap: 31, nfs: 18, shift: 17 }),
    xAxis(0, 'top', null),
    xAxis(1, 'top', null)
  ],
  yAxis: [
    yAxis(0, 'left', A_Y_DEC, { margin: 3, fs: 17, ss: 12.5, gap: 52, nfs: 17, nss: 12, pad: [0, 0, 0, 6] }),
    yAxis(1, 'left', B_Y_DEC, { margin: 2, fs: 18, ss: 13, gap: 50, nfs: 18, nss: 12.5, pad: [0, 15, 0, 0] }),
    yAxis(0, 'right', A_Y_DEC, null),
    yAxis(1, 'right', B_Y_DEC, null)
  ],
  legend: [
    legend(401, 48, 49, 15, 20, [4, 5, 0, 5]),
    legend(751, 359, 51, 15.5, 19.5, [4, 5, 1, 5])
  ],
  series
};

const chart = echarts.init(document.getElementById('chart'), null, { renderer: 'canvas' });
chart.setOption(option);
</script>
</body>
</html>
